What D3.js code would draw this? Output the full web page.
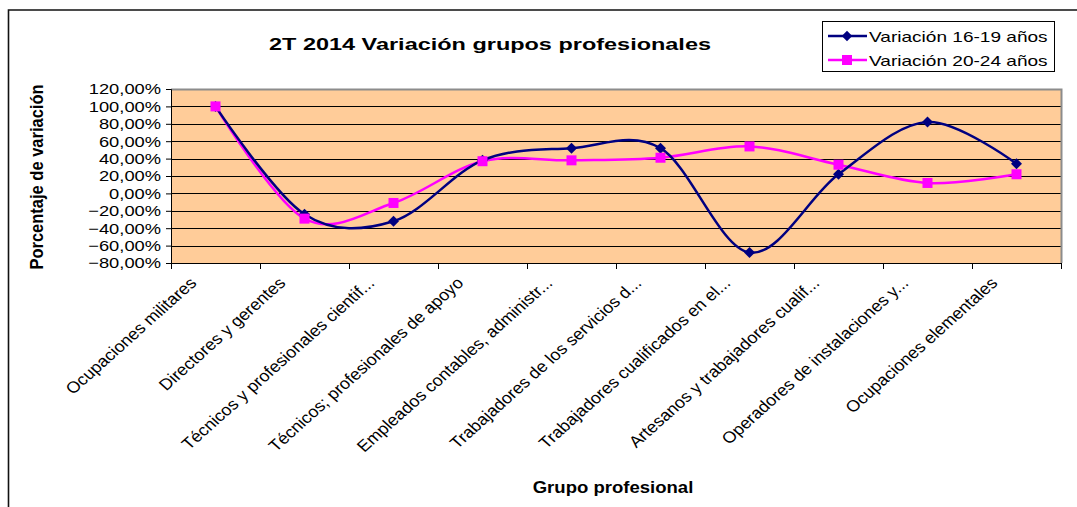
<!DOCTYPE html>
<html>
<head>
<meta charset="utf-8">
<script src="https://cdn.jsdelivr.net/npm/d3@7"></script>
<style>
  body { margin: 0; background: #fff; }
  text { font-family: "Liberation Sans", Arial, sans-serif; fill: #000; }
</style>
</head>
<body>
<div id="chart"></div>
<script>
// Categories (x axis labels)
var groups = [
  "Ocupaciones militares",
  "Directores y gerentes",
  "Técnicos y profesionales cientif...",
  "Técnicos; profesionales de apoyo",
  "Empleados contables, administr...",
  "Trabajadores de los servicios d...",
  "Trabajadores cualificados en el...",
  "Artesanos y trabajadores cualif...",
  "Operadores de instalaciones y...",
  "Ocupaciones elementales"
];

// Series values (percent)
var var1619 = [100, -24, -32, 38, 52, 52, -68, 22, 82, 34];
var var2024 = [100, -29, -11, 37, 38, 41, 54, 33, 12, 22];

var seriesNames = ["Variación 16-19 años", "Variación 20-24 años"];
var yTicks = [-80, -60, -40, -20, 0, 20, 40, 60, 80, 100, 120];

var width = 1077;
var height = 507;

var svg = d3.select("#chart")
  .append("svg")
  .attr("width", width)
  .attr("height", height);

// outer chart frame (only top and left edges are visible in the picture)
svg.append("path")
  .attr("d", "M8.5,507 L8.5,10 L1077,10")
  .attr("fill", "none")
  .attr("stroke", "#111")
  .attr("stroke-width", 1.6);

// scales
var xScale = d3.scaleBand()
  .domain(groups)
  .range([171, 1061])
  .padding(0);

var yScale = d3.scaleLinear()
  .domain([-80, 120])
  .range([263, 89]);

function cx(i) { return xScale(groups[i]) + xScale.bandwidth() / 2; }

// stretch text horizontally to the width it has in the picture
function stretch(sel, k) {
  sel.each(function() {
    var len = this.getComputedTextLength();
    d3.select(this).attr("textLength", len * k).attr("lengthAdjust", "spacingAndGlyphs");
  });
}

// plot area background
svg.append("rect")
  .attr("x", 171)
  .attr("y", 89)
  .attr("width", 890)
  .attr("height", 174)
  .attr("fill", "#FFCC99");

// gridlines
svg.append("g")
  .selectAll("line")
  .data(yTicks.filter(d => d > -80 && d < 120))
  .enter()
  .append("line")
  .attr("x1", 171)
  .attr("x2", 1061)
  .attr("y1", d => Math.round(yScale(d)) + 0.5)
  .attr("y2", d => Math.round(yScale(d)) + 0.5)
  .attr("stroke", "#000")
  .attr("stroke-width", 1);

// plot border top/right (gray)
svg.append("path")
  .attr("d", "M171,89.5 L1061.5,89.5 L1061.5,263")
  .attr("fill", "none")
  .attr("stroke", "#8c8c8c")
  .attr("stroke-width", 2);

// y axis
var yAxis = svg.append("g")
  .attr("transform", "translate(171,0)")
  .call(d3.axisLeft(yScale).tickValues(yTicks).tickSize(5).tickPadding(5)
    .tickFormat(d => d3.format(".2f")(d).replace(".", ",") + "%"));
yAxis.select(".domain").attr("stroke", "#000");
yAxis.selectAll("line").attr("stroke", "#000");
yAxis.selectAll("text")
  .style("font-size", "15px")
  .style("font-family", "'Liberation Sans', Arial, sans-serif")
  .attr("fill", "#000")
  .call(stretch, 1.22);

// x axis: ticks at category boundaries
var xAxisG = svg.append("g");
xAxisG.append("line")
  .attr("x1", 171).attr("x2", 1061)
  .attr("y1", 263.5).attr("y2", 263.5)
  .attr("stroke", "#000");
xAxisG.selectAll(".tick")
  .data(groups.concat(["end"]))
  .enter()
  .append("line")
  .attr("x1", (d, i) => i < groups.length ? xScale(d) + 0.5 : xScale.range()[1] + 0.5)
  .attr("x2", (d, i) => i < groups.length ? xScale(d) + 0.5 : xScale.range()[1] + 0.5)
  .attr("y1", 263)
  .attr("y2", 269)
  .attr("stroke", "#000");

// rotated category labels
xAxisG.selectAll(".lab")
  .data(groups)
  .enter()
  .append("text")
  .attr("transform", (d, i) => "translate(" + (cx(i) - 18) + ",284) scale(1.12,1) rotate(-45)")
  .attr("text-anchor", "end")
  .style("font-size", "16px")
  .text(d => d);

// lines
var line = d3.line()
  .x((d, i) => cx(i))
  .y(d => yScale(d))
  .curve(d3.curveCardinal.tension(0));

svg.append("path")
  .datum(var2024)
  .attr("d", line)
  .attr("fill", "none")
  .attr("stroke", "#FF00FF")
  .attr("stroke-width", 2.5);

svg.append("path")
  .datum(var1619)
  .attr("d", line)
  .attr("fill", "none")
  .attr("stroke", "#000080")
  .attr("stroke-width", 2.5);

// markers
var diamond = d3.symbol().type(d3.symbolDiamond).size(70);

svg.selectAll(".m1")
  .data(var1619)
  .enter()
  .append("path")
  .attr("d", d3.symbol().type(d3.symbolSquare).size(60)())
  .attr("transform", (d, i) => "translate(" + cx(i) + "," + yScale(d) + ") rotate(45)")
  .attr("fill", "#000080");

svg.selectAll(".m2")
  .data(var2024)
  .enter()
  .append("rect")
  .attr("x", (d, i) => cx(i) - 5)
  .attr("y", d => yScale(d) - 5)
  .attr("width", 10)
  .attr("height", 10)
  .attr("fill", "#FF00FF");

// title
svg.append("text")
  .attr("x", 490)
  .attr("y", 50)
  .attr("text-anchor", "middle")
  .style("font-size", "17px")
  .style("font-weight", "bold")
  .text("2T 2014 Variación grupos profesionales")
  .call(stretch, 1.38);

// axis titles
svg.append("text")
  .attr("transform", "translate(43,177) scale(1.1,1) rotate(-90)")
  .attr("text-anchor", "middle")
  .style("font-size", "16.5px")
  .style("font-weight", "bold")
  .text("Porcentaje de variación");

svg.append("text")
  .attr("x", 613)
  .attr("y", 493)
  .attr("text-anchor", "middle")
  .style("font-size", "17px")
  .style("font-weight", "bold")
  .text("Grupo profesional")
  .call(stretch, 1.09);

// legend
var legend = svg.append("g");
legend.append("rect")
  .attr("x", 822.5)
  .attr("y", 21.5)
  .attr("width", 232)
  .attr("height", 50)
  .attr("fill", "#fff")
  .attr("stroke", "#000");

var legendColors = ["#000080", "#FF00FF"];
seriesNames.forEach(function(name, i) {
  var yy = 36 + i * 24;
  legend.append("line")
    .attr("x1", 828).attr("x2", 867)
    .attr("y1", yy).attr("y2", yy)
    .attr("stroke", legendColors[i])
    .attr("stroke-width", 2.5);
  if (i === 0) {
    legend.append("path")
      .attr("d", d3.symbol().type(d3.symbolSquare).size(55)())
      .attr("transform", "translate(847," + yy + ") rotate(45)")
      .attr("fill", legendColors[i]);
  } else {
    legend.append("rect")
      .attr("x", 842).attr("y", yy - 5)
      .attr("width", 10).attr("height", 10)
      .attr("fill", legendColors[i]);
  }
  legend.append("text")
    .attr("x", 869)
    .attr("y", yy + 5.5)
    .style("font-size", "15px")
    .text(name)
    .call(stretch, 1.27);
});
</script>
</body>
</html>
